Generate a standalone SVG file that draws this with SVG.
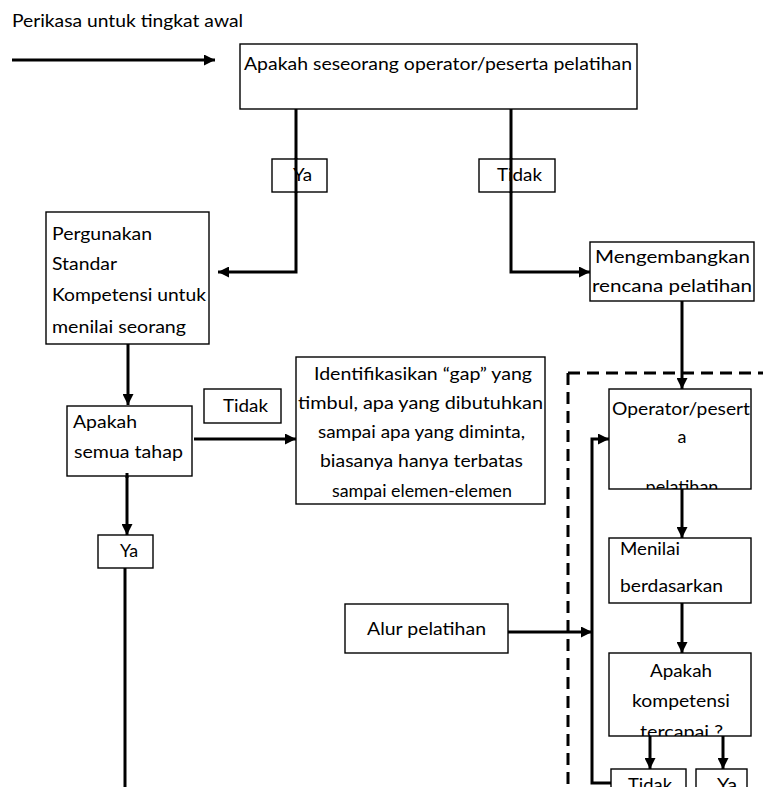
<svg xmlns="http://www.w3.org/2000/svg" width="763" height="787" viewBox="0 0 763 787">
  <style>
    .box { fill: #ffffff; stroke: #000000; stroke-width: 1.4; }
    .t { font-family: Lato, "Liberation Sans", sans-serif; font-size: 18px; fill: #000000; }
    .c { text-anchor: middle; }
    .wire { fill: none; stroke: #000000; stroke-width: 3; }
    .arrow { fill: none; stroke: #000000; stroke-width: 3; marker-end: url(#head); }
    .dash { fill: none; stroke: #000000; stroke-width: 3; stroke-dasharray: 12 7; }
  </style>
  <defs>
    <marker id="head" viewBox="0 0 10 10" refX="10" refY="5" markerWidth="12" markerHeight="11" markerUnits="userSpaceOnUse" orient="auto">
      <path d="M0,0 L10,5 L0,10 Z" fill="#000000"/>
    </marker>
    <clipPath id="clipOperator"><rect x="609" y="389" width="142" height="100"/></clipPath>
    <clipPath id="clipKompetensi"><rect x="609" y="653" width="142" height="83"/></clipPath>
    <clipPath id="clipGap"><rect x="296" y="357" width="249" height="147"/></clipPath>
  </defs>

  <rect width="763" height="787" fill="#ffffff"/>

  <!-- heading and entry arrow -->
  <text class="t" x="12" y="27" font-size="16.5" textLength="231" lengthAdjust="spacingAndGlyphs">Perikasa untuk tingkat awal</text>

  <!-- dashed training boundary -->
  <path class="dash" d="M568,373 H763 M568,373 V787"/>

  <!-- connectors -->
  <g id="connectors">
    <path class="arrow" d="M12,60 H215"/>
    <path class="arrow" d="M296,109 V272 H218"/>
    <path class="arrow" d="M511,109 V272 H590"/>
    <path class="arrow" d="M682,301 V389"/>
    <path class="arrow" d="M128,344 V405"/>
    <path class="arrow" d="M194,439 H296"/>
    <path class="arrow" d="M127,473 V535"/>
    <path class="wire" d="M125,568 V787"/>
    <path class="arrow" d="M611,783 H592 V439 H609"/>
    <path class="arrow" d="M508,632 H592"/>
    <path class="arrow" d="M682,489 V538"/>
    <path class="arrow" d="M682,603 V653"/>
    <path class="arrow" d="M650,736 V769"/>
    <path class="arrow" d="M723,736 V769"/>
  </g>

  <g id="node-start">
    <rect class="box" x="240" y="44" width="397" height="65"/>
    <text class="t" x="244" y="70" textLength="388" lengthAdjust="spacingAndGlyphs">Apakah seseorang operator/peserta pelatihan</text>
  </g>

  <g id="label-ya-top">
    <rect class="box" x="272" y="159" width="55" height="33"/>
    <text class="t" x="293" y="181" textLength="19" lengthAdjust="spacingAndGlyphs">Ya</text>
  </g>
  <path class="wire" d="M296,158 V193"/>

  <g id="label-tidak-top">
    <rect class="box" x="479" y="159" width="76" height="33"/>
    <text class="t" x="497" y="181" textLength="45" lengthAdjust="spacingAndGlyphs">Tidak</text>
  </g>
  <path class="wire" d="M511,158 V193"/>

  <g id="node-standar">
    <rect class="box" x="46" y="212" width="163" height="132"/>
    <text class="t" x="52" y="240" textLength="100" lengthAdjust="spacingAndGlyphs">Pergunakan</text>
    <text class="t" x="52" y="270" textLength="65" lengthAdjust="spacingAndGlyphs">Standar</text>
    <text class="t" x="52" y="301" textLength="154" lengthAdjust="spacingAndGlyphs">Kompetensi untuk</text>
    <text class="t" x="52" y="333" textLength="134" lengthAdjust="spacingAndGlyphs">menilai seorang</text>
  </g>

  <g id="node-rencana">
    <rect class="box" x="590" y="242" width="164" height="59"/>
    <text class="t" x="595" y="263" textLength="155" lengthAdjust="spacingAndGlyphs">Mengembangkan</text>
    <text class="t" x="592" y="292" textLength="160" lengthAdjust="spacingAndGlyphs">rencana pelatihan</text>
  </g>

  <g id="node-tahap">
    <rect class="box" x="67" y="406" width="125" height="70"/>
    <text class="t" x="73" y="428" textLength="64" lengthAdjust="spacingAndGlyphs">Apakah</text>
    <text class="t" x="74" y="458" textLength="109" lengthAdjust="spacingAndGlyphs">semua tahap</text>
  </g>
  <path class="wire" d="M127,473 V478"/>

  <g id="label-tidak-mid">
    <rect class="box" x="204" y="389" width="77" height="34"/>
    <text class="t" x="223" y="412" textLength="45" lengthAdjust="spacingAndGlyphs">Tidak</text>
  </g>

  <g id="node-gap">
    <rect class="box" x="296" y="357" width="249" height="147"/>
    <g clip-path="url(#clipGap)">
      <text class="t" x="314" y="380" textLength="218" lengthAdjust="spacingAndGlyphs">Identifikasikan “gap” yang</text>
      <text class="t" x="298" y="409" textLength="245" lengthAdjust="spacingAndGlyphs">timbul, apa yang dibutuhkan</text>
      <text class="t" x="318" y="438" textLength="207" lengthAdjust="spacingAndGlyphs">sampai apa yang diminta,</text>
      <text class="t" x="320" y="467" textLength="203" lengthAdjust="spacingAndGlyphs">biasanya hanya terbatas</text>
      <text class="t" x="332" y="497" textLength="180" lengthAdjust="spacingAndGlyphs">sampai elemen-elemen</text>
    </g>
  </g>

  <g id="label-ya-left">
    <rect class="box" x="98" y="535" width="55" height="33"/>
    <text class="t" x="120" y="557" textLength="18" lengthAdjust="spacingAndGlyphs">Ya</text>
  </g>

  <g id="node-operator">
    <rect class="box" x="609" y="389" width="142" height="100"/>
    <g clip-path="url(#clipOperator)">
      <text class="t" x="612" y="415" textLength="138" lengthAdjust="spacingAndGlyphs">Operator/pesert</text>
      <text class="t c" x="682" y="443">a</text>
      <text class="t c" x="682" y="493">pelatihan</text>
    </g>
  </g>

  <g id="node-menilai">
    <rect class="box" x="609" y="538" width="142" height="65"/>
    <text class="t" x="620" y="555" textLength="60" lengthAdjust="spacingAndGlyphs">Menilai</text>
    <text class="t" x="620" y="592" textLength="103" lengthAdjust="spacingAndGlyphs">berdasarkan</text>
  </g>

  <g id="node-alur">
    <rect class="box" x="345" y="604" width="163" height="49"/>
    <text class="t" x="367" y="635" textLength="119" lengthAdjust="spacingAndGlyphs">Alur pelatihan</text>
  </g>

  <g id="node-kompetensi">
    <rect class="box" x="609" y="653" width="142" height="83"/>
    <g clip-path="url(#clipKompetensi)">
      <text class="t" x="650" y="677" textLength="62" lengthAdjust="spacingAndGlyphs">Apakah</text>
      <text class="t" x="632" y="707" textLength="98" lengthAdjust="spacingAndGlyphs">kompetensi</text>
      <text class="t" x="640" y="738" textLength="83" lengthAdjust="spacingAndGlyphs">tercapai ?</text>
    </g>
  </g>

  <g id="label-tidak-bottom">
    <rect class="box" x="611" y="769" width="75" height="30"/>
    <text class="t" x="628" y="791" textLength="44" lengthAdjust="spacingAndGlyphs">Tidak</text>
  </g>

  <g id="label-ya-bottom">
    <rect class="box" x="696" y="769" width="51" height="30"/>
    <text class="t" x="717" y="791" textLength="20" lengthAdjust="spacingAndGlyphs">Ya</text>
  </g>
</svg>
